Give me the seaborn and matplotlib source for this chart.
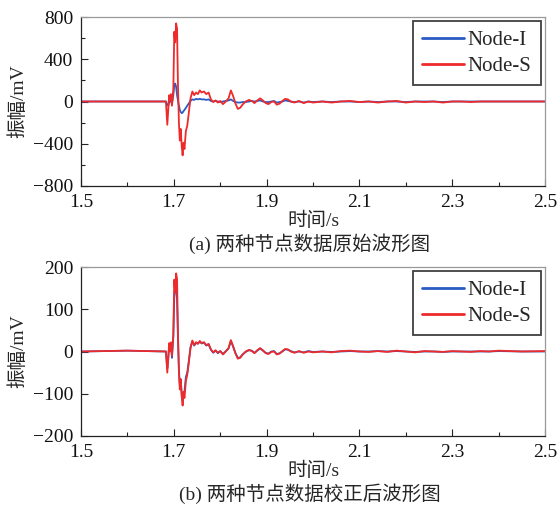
import numpy as np
import pandas as pd
import matplotlib
matplotlib.use("Agg")
import matplotlib.pyplot as plt
from matplotlib.ticker import MultipleLocator
import seaborn as sns

time = [1.500, 1.600, 1.683, 1.686, 1.688, 1.690, 1.692, 1.694, 1.696, 1.699,
        1.701, 1.703, 1.705, 1.707, 1.709, 1.711, 1.713, 1.715, 1.717, 1.719,
        1.721, 1.723, 1.726, 1.729, 1.732, 1.736, 1.740, 1.744, 1.748, 1.752,
        1.756, 1.760, 1.765, 1.770, 1.775, 1.780, 1.785, 1.790, 1.795, 1.800,
        1.806, 1.812, 1.818, 1.823, 1.828, 1.833, 1.838, 1.843, 1.848, 1.855,
        1.862, 1.868, 1.874, 1.880, 1.886, 1.892, 1.898, 1.904, 1.910, 1.916,
        1.922, 1.928, 1.934, 1.940, 1.946, 1.952, 1.960, 1.970, 1.980, 1.990,
        2.000, 2.020, 2.040, 2.060, 2.080, 2.100, 2.120, 2.140, 2.160, 2.180,
        2.200, 2.220, 2.240, 2.260, 2.280, 2.300, 2.320, 2.340, 2.360, 2.380,
        2.400, 2.450, 2.500]

# (a) raw waveforms
node_s_raw = [0, 0, 0, -220, -80, 60, 10, 70, -40, 120,
              660, 560, 740, 690, 150, -200, -370, -260, -420, -510,
              -390, -450, -280, -230, -120, 30, 95, 60, 85, 70,
              105, 85, 95, 70, 85, 20, -5, 10, -10, 5,
              -25, 0, 30, 105, 50, -20, -70, -60, -30, 0,
              15, 5, -15, 10, 30, 10, -15, -25, -5, 0,
              -30, -20, 5, 25, 20, 0, -10, 5, -15, 0,
              -10, 0, -10, 0, 5, -5, 0, -10, 0, 5,
              -10, 0, -5, 0, -10, 0, 0, -5, 0, 0,
              0, 0, 0]
node_i_raw = [0, 0, 0, -30, -40, -10, 10, 0, -20, 60,
              150, 170, 140, 60, 10, -40, -80, -100, -110, -105,
              -90, -80, -60, -40, -20, 5, 20, 15, 25, 20,
              25, 20, 20, 15, 20, 5, 0, 5, 0, -5,
              0, 5, 10, 20, 5, -5, -10, -10, -5, -5,
              0, 5, 0, 5, 10, 0, -5, -5, 0, 5,
              -10, -5, 0, 10, 5, 0, -5, 0, -10, 0,
              -5, 0, -5, 0, 0, -5, 0, -5, 0, 0,
              -5, 0, 0, 0, -5, 0, 0, 0, 0, 0,
              0, 0, 0]

# (b) corrected waveforms
node_s_cor = [0, 2, 0, -50, -15, 20, 0, 22, -10, 40,
              170, 140, 185, 172, 40, -50, -90, -65, -105, -128,
              -95, -110, -70, -55, -30, 8, 26, 15, 22, 18,
              25, 20, 22, 15, 18, 5, -2, 3, -3, 1,
              -7, 0, 8, 27, 12, -5, -17, -15, -8, 0,
              4, 1, -4, 3, 8, 3, -4, -6, -1, 0,
              -7, -5, 1, 6, 5, 0, -3, 1, -3, 0,
              -2, 0, -2, 1, 2, 0, -1, 1, -1, 2,
              0, -2, 1, 0, -1, 1, 0, -1, 1, 0,
              2, 0, 1]
node_i_cor = [0, 2, 0, -40, -20, 15, 5, 15, -15, 35,
              130, 155, 150, 120, 30, -40, -80, -70, -100, -118,
              -100, -95, -60, -50, -25, 10, 24, 14, 20, 19,
              23, 19, 21, 14, 17, 4, -3, 2, -4, 1,
              -6, 1, 7, 25, 11, -4, -15, -14, -7, -1,
              3, 2, -3, 2, 7, 2, -3, -5, 0, 1,
              -6, -4, 0, 5, 4, 1, -2, 0, -2, 1,
              -1, 0, -1, 0, 1, 0, 0, 1, 0, 1,
              0, -1, 0, 0, -1, 0, 0, 0, 0, 0,
              1, 0, 0]

series_names = ["Node-I", "Node-S"]
x_ticks = [1.5, 1.7, 1.9, 2.1, 2.3, 2.5]
y_ticks_a = [-800, -400, 0, 400, 800]
y_ticks_b = [-200, -100, 0, 100, 200]
captions = ["(a) 两种节点数据原始波形图", "(b) 两种节点数据校正后波形图"]

sns.set_theme(style="white")
plt.rcParams["font.family"] = ["Liberation Serif", "Noto Sans CJK SC"]
plt.rcParams["axes.unicode_minus"] = True

colors = {"Node-I": "#2a5cc4", "Node-S": "#ee2a2a"}

W, H = 560, 509
fig = plt.figure(figsize=(W / 100, H / 100), dpi=100)
ax_h = 169
ax_a = fig.add_axes([81 / W, 1 - 186 / H, 464 / W, ax_h / H])
ax_b = fig.add_axes([81 / W, 1 - 436 / H, 464 / W, ax_h / H])

panels = [
    (ax_a, node_i_raw, node_s_raw, y_ticks_a, (-800, 800), 200),
    (ax_b, node_i_cor, node_s_cor, y_ticks_b, (-200, 200), None),
]

for (ax, yi, ys, yt, ylim, ymin), cap in zip(panels, captions):
    df = pd.DataFrame({
        "t": time * 2,
        "v": list(yi) + list(ys),
        "node": ["Node-I"] * len(time) + ["Node-S"] * len(time),
    })
    sns.lineplot(data=df, x="t", y="v", hue="node", hue_order=series_names,
                 palette=colors, ax=ax, linewidth=1.3, sort=False,
                 estimator=None)
    ax.set_xlim(1.5, 2.5)
    ax.set_ylim(*ylim)
    ax.set_xticks(x_ticks)
    ax.set_xticklabels([f"{v:.1f}" for v in x_ticks])
    ax.set_yticks(yt)
    ax.xaxis.set_minor_locator(MultipleLocator(0.1))
    if ymin:
        ax.yaxis.set_minor_locator(MultipleLocator(ymin))
    ax.tick_params(axis="both", which="both", direction="in", labelsize=14,
                   bottom=True, left=True, top=False, right=False,
                   colors="#222222", labelcolor="#111111")
    ax.tick_params(axis="x", which="major", pad=6)
    ax.tick_params(axis="y", which="major", pad=5.5)
    ax.tick_params(which="major", length=5, width=0.8)
    ax.tick_params(which="minor", length=3, width=0.8)
    for side in ["left", "bottom"]:
        ax.spines[side].set_color("#222222")
        ax.spines[side].set_linewidth(0.9)
    for side in ["top", "right"]:
        ax.spines[side].set_color("#999999")
        ax.spines[side].set_linewidth(0.9)
    ax.set_xlabel("时间/s", fontsize=14, va="center")
    ax.xaxis.set_label_coords(0.5, -35 / ax_h)
    ax.set_ylabel("振幅/mV", fontsize=14, va="center")
    ax.yaxis.set_label_coords((18 - 81) / 464, 0.5)
    ax.text(0.4935, -58 / ax_h, cap, transform=ax.transAxes, ha="center",
            va="center", fontsize=14)
    leg = ax.legend(loc="upper right", frameon=True, fancybox=False,
                    fontsize=15, handlelength=2.0, handletextpad=0.2,
                    borderpad=0.45, labelspacing=0.3, borderaxespad=0.2)
    leg.get_frame().set_edgecolor("#111111")
    leg.get_frame().set_linewidth(1.3)
    for h in leg.get_lines():
        h.set_linewidth(2)

fig.savefig("out.png", dpi=100)
